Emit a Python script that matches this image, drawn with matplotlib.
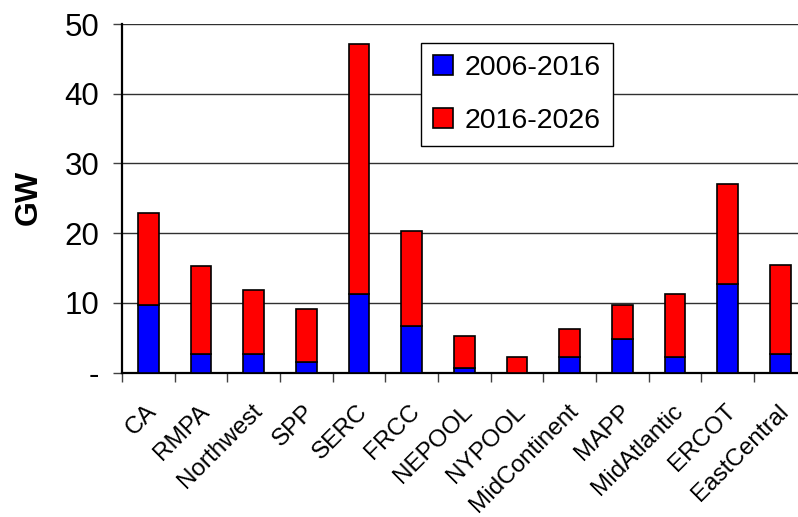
import matplotlib
matplotlib.use("Agg")
import matplotlib.pyplot as plt
import matplotlib.transforms as mtransforms
import numpy as np

plt.rcParams['font.family'] = ['Liberation Sans', 'DejaVu Sans']

regions = ["CA", "RMPA", "Northwest", "SPP", "SERC", "FRCC", "NEPOOL", "NYPOOL",
           "MidContinent", "MAPP", "MidAtlantic", "ERCOT", "EastCentral"]
totals = [22.9, 15.3, 11.9, 9.1, 47.1, 20.3, 5.3, 2.2, 6.3, 9.7, 11.3, 27.1, 15.4]
gw_2006_2016 = [9.7, 2.6, 2.6, 1.5, 11.2, 6.7, 0.6, 0.0, 2.2, 4.8, 2.2, 12.7, 2.6]
gw_2016_2026 = [round(t - b, 1) for t, b in zip(totals, gw_2006_2016)]
yticks = [0, 10, 20, 30, 40, 50]
ytick_labels = ["-", "10", "20", "30", "40", "50"]

fig = plt.figure(figsize=(7.98, 5.17), dpi=100)
ax = fig.add_axes([122/798, 1 - 372.5/517, 684.7/798, (372.5 - 24)/517])

x = np.arange(len(regions))
w = 0.39
ax.bar(x, gw_2006_2016, w, color='#0000FF', edgecolor='black', linewidth=1.2,
       label='2006-2016', zorder=3)
ax.bar(x, gw_2016_2026, w, bottom=gw_2006_2016, color='#FF0000', edgecolor='black',
       linewidth=1.2, label='2016-2026', zorder=3)

ax.set_xlim(-0.5, len(regions) - 0.5)
ax.set_ylim(0, 50)
ax.set_yticks(yticks)
ax.set_yticklabels(ytick_labels, fontsize=22.5)
for v in yticks[1:]:
    ax.axhline(v, color='#303030', linewidth=1.0, zorder=1)

ax.set_xticks(np.arange(len(regions) + 1) - 0.5)
ax.set_xticklabels([])
ax.set_xticks(x, minor=True)
ax.set_xticklabels(regions, minor=True, rotation=45, ha='right', va='top',
                   rotation_mode='anchor', fontsize=17.5)
ax.tick_params(axis='x', which='minor', length=0, pad=20)
ax.tick_params(axis='x', which='major', length=6.5, width=1, direction='out',
               color='#404040')
ax.tick_params(axis='y', length=6.5, width=1, direction='out', pad=10,
               color='#404040')
offset = mtransforms.ScaledTranslation(-2/72, 0, fig.dpi_scale_trans)
for lab in ax.xaxis.get_minorticklabels():
    lab.set_transform(lab.get_transform() + offset)

for s in ['top', 'right']:
    ax.spines[s].set_visible(False)
for s in ['left', 'bottom']:
    ax.spines[s].set_linewidth(1.6)

fig.text(29/798, 1 - 197/517, 'GW', fontsize=23, fontweight='bold',
         rotation=90, ha='center', va='center')

leg = ax.legend(loc='upper left', bbox_to_anchor=(420.7/798, 1 - 43.3/517),
                bbox_transform=fig.transFigure, borderaxespad=0, fontsize=20.5,
                frameon=True, fancybox=False, edgecolor='black', framealpha=1,
                handlelength=0.7, handleheight=0.7, labelspacing=0.93,
                borderpad=0.42, handletextpad=0.42)
leg.get_frame().set_linewidth(1.0)

fig.savefig('out.png', dpi=100)
